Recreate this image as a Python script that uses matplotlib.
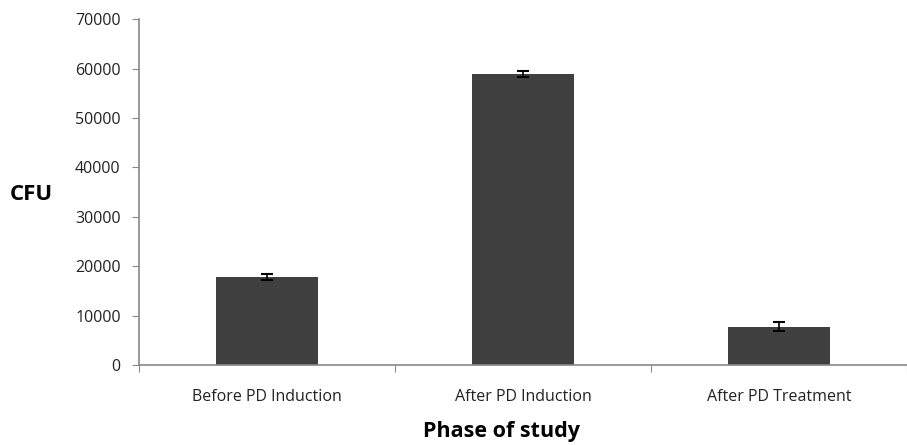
import matplotlib.pyplot as plt
import numpy as np

phases = ["Before PD Induction", "After PD Induction", "After PD Treatment"]
cfu = [17800, 58900, 7700]
cfu_err = [600, 600, 900]
y_ticks = [0, 10000, 20000, 30000, 40000, 50000, 60000, 70000]

plt.rcParams['font.family'] = ['Open Sans', 'DejaVu Sans']

fig = plt.figure(figsize=(9.07, 4.45), dpi=100)
ax = fig.add_axes([0.153, 0.18, 0.847, 0.777])

x = np.arange(len(phases))
ax.bar(x, cfu, width=0.4, color="#404040", zorder=2)
ax.errorbar(x, cfu, yerr=cfu_err, fmt="none", ecolor="black",
            elinewidth=1.2, capsize=4, capthick=1.5, zorder=3)

ax.set_xlim(-0.5, len(phases) - 0.5)
ax.set_ylim(0, 70000)
ax.set_yticks(y_ticks)
ax.set_yticklabels([str(v) for v in y_ticks], fontsize=11.5, color="#222222")

# boundaries get the tick marks, centres get the labels
ax.set_xticks(np.arange(len(phases) + 1) - 0.5)
ax.set_xticklabels([])
ax.set_xticks(x, minor=True)
ax.set_xticklabels(phases, minor=True, fontsize=11.5, color="#222222")
ax.tick_params(axis="x", which="minor", length=0, pad=17)
ax.tick_params(axis="x", which="major", length=5, color="#888888", direction="out")
ax.tick_params(axis="y", length=5, color="#888888", direction="out", pad=8)

for side in ["top", "right"]:
    ax.spines[side].set_visible(False)
for side in ["left", "bottom"]:
    ax.spines[side].set_color("#888888")
    ax.spines[side].set_linewidth(1.2)

fig.text(0.034, 0.562, "CFU", fontsize=16, fontweight="bold", ha="center", va="center")
fig.text(0.553, 0.03, "Phase of study", fontsize=15.5, fontweight="bold", ha="center", va="center")

fig.savefig("out.png", dpi=100)
